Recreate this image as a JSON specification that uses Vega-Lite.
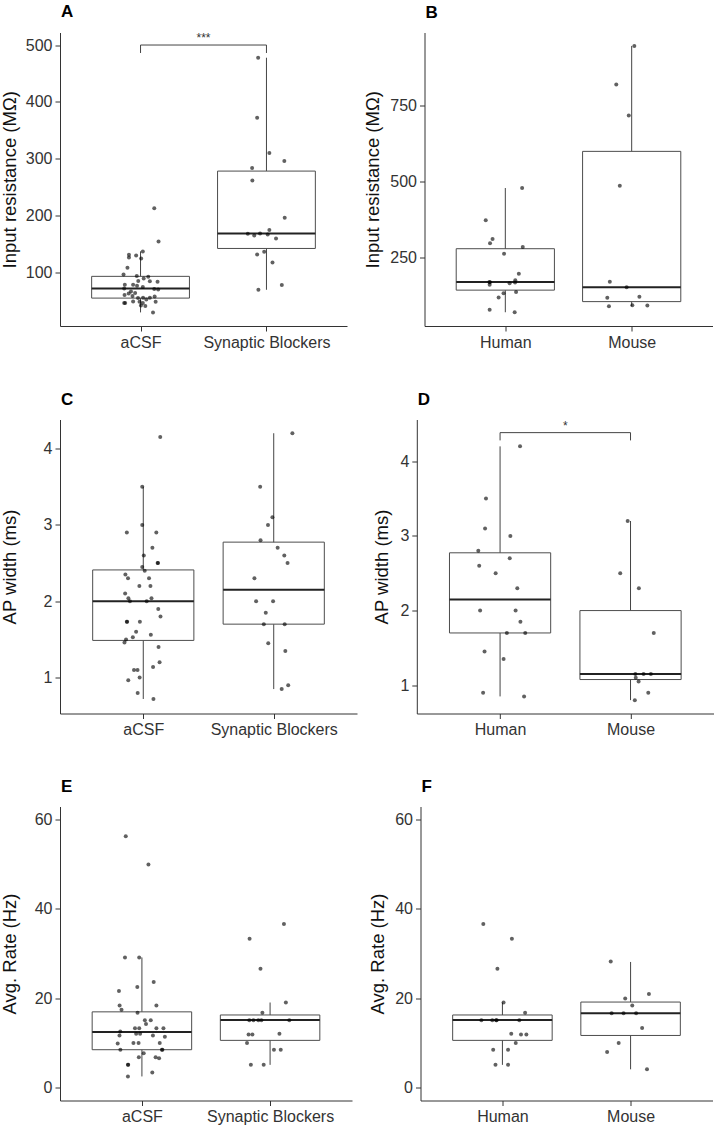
{
"$schema": "https://vega.github.io/schema/vega-lite/v6.json",
"autosize": {"type": "pad"},
"padding": {"left": 0, "top": 2.5, "right": 0, "bottom": 0},
"background": "white",
"config": {
 "font": "Liberation Sans",
 "view": {"stroke": null},
 "axis": {"grid": false, "domainColor": "#333", "tickColor": "#333", "labelColor": "#333", "titleColor": "#111", "labelFont": "Liberation Sans", "titleFont": "Liberation Sans", "labelFontSize": 16, "titleFontSize": 18.5, "titleFontWeight": "normal", "tickSize": 5, "domainWidth": 1, "tickWidth": 1, "labelFlush": false, "labelOverlap": false},
 "axisX": {"labelPadding": 3},
 "axisY": {"labelPadding": 3, "titlePadding": 2},
 "title": {"anchor": "start", "frame": "group", "fontSize": 17, "fontWeight": "bold", "font": "Liberation Sans", "color": "#000", "offset": 10.8, "baseline": "alphabetic", "dx": 1}
},
"datasets": {
 "pts": [
  {"p":"A","pos":1.109,"v":213.1},{"p":"A","pos":1.143,"v":155.1},{"p":"A","pos":1.018,"v":137.5},{"p":"A","pos":0.908,"v":131.6},{"p":"A","pos":0.908,"v":127.0},{"p":"A","pos":0.965,"v":130.5},{"p":"A","pos":1.005,"v":125.2},{"p":"A","pos":0.896,"v":108.8},{"p":"A","pos":0.865,"v":97.1},{"p":"A","pos":0.970,"v":94.2},{"p":"A","pos":1.025,"v":90.1},{"p":"A","pos":1.061,"v":92.9},{"p":"A","pos":0.982,"v":85.4},{"p":"A","pos":1.074,"v":84.9},{"p":"A","pos":0.875,"v":79.1},{"p":"A","pos":0.941,"v":79.1},{"p":"A","pos":0.972,"v":77.4},{"p":"A","pos":1.135,"v":84.2},{"p":"A","pos":1.018,"v":75.1},{"p":"A","pos":0.870,"v":72.2},{"p":"A","pos":1.109,"v":71.6},{"p":"A","pos":1.140,"v":70.5},{"p":"A","pos":0.924,"v":67.3},{"p":"A","pos":0.957,"v":64.4},{"p":"A","pos":0.906,"v":63.8},{"p":"A","pos":0.873,"v":60.9},{"p":"A","pos":0.936,"v":59.1},{"p":"A","pos":1.020,"v":56.2},{"p":"A","pos":1.074,"v":56.2},{"p":"A","pos":1.112,"v":58.5},{"p":"A","pos":0.980,"v":55.5},{"p":"A","pos":1.046,"v":53.2},{"p":"A","pos":1.120,"v":49.0},{"p":"A","pos":0.870,"v":46.7},{"p":"A","pos":0.878,"v":46.7},{"p":"A","pos":0.941,"v":49.7},{"p":"A","pos":0.992,"v":49.0},{"p":"A","pos":1.018,"v":46.7},{"p":"A","pos":1.003,"v":42.7},{"p":"A","pos":1.038,"v":41.5},{"p":"A","pos":1.099,"v":30.4},
  {"p":"A","pos":1.934,"v":477.7},{"p":"A","pos":1.926,"v":372.3},{"p":"A","pos":2.023,"v":310.2},{"p":"A","pos":2.142,"v":296.2},{"p":"A","pos":1.886,"v":283.9},{"p":"A","pos":1.888,"v":262.2},{"p":"A","pos":2.145,"v":196.6},{"p":"A","pos":1.852,"v":168.5},{"p":"A","pos":1.903,"v":165.6},{"p":"A","pos":1.949,"v":169.1},{"p":"A","pos":2.023,"v":175.0},{"p":"A","pos":2.010,"v":167.4},{"p":"A","pos":2.076,"v":160.3},{"p":"A","pos":1.982,"v":136.9},{"p":"A","pos":1.926,"v":132.2},{"p":"A","pos":2.048,"v":118.2},{"p":"A","pos":1.936,"v":70.1},{"p":"A","pos":2.122,"v":78.3},
  {"p":"B","pos":1.133,"v":477.7},{"p":"B","pos":0.845,"v":372.3},{"p":"B","pos":0.899,"v":310.2},{"p":"B","pos":0.879,"v":296.2},{"p":"B","pos":1.138,"v":283.9},{"p":"B","pos":0.990,"v":262.2},{"p":"B","pos":1.107,"v":196.6},{"p":"B","pos":0.874,"v":169.1},{"p":"B","pos":0.879,"v":168.5},{"p":"B","pos":1.034,"v":165.6},{"p":"B","pos":1.079,"v":175.0},{"p":"B","pos":1.077,"v":167.4},{"p":"B","pos":0.876,"v":160.3},{"p":"B","pos":1.085,"v":136.9},{"p":"B","pos":0.986,"v":132.2},{"p":"B","pos":0.947,"v":118.2},{"p":"B","pos":0.876,"v":78.3},{"p":"B","pos":1.074,"v":70.1},
  {"p":"B","pos":2.021,"v":943.8},{"p":"B","pos":1.878,"v":817},{"p":"B","pos":1.977,"v":716},{"p":"B","pos":1.906,"v":485},{"p":"B","pos":1.827,"v":170},{"p":"B","pos":1.960,"v":152},{"p":"B","pos":1.807,"v":118},{"p":"B","pos":2.061,"v":121},{"p":"B","pos":1.820,"v":90},{"p":"B","pos":2.005,"v":93},{"p":"B","pos":2.124,"v":92},
  {"p":"C","pos":0.992,"v":3.50},{"p":"C","pos":0.992,"v":3.00},{"p":"C","pos":0.874,"v":2.90},{"p":"C","pos":1.100,"v":2.90},{"p":"C","pos":1.070,"v":2.70},{"p":"C","pos":1.004,"v":2.60},{"p":"C","pos":1.110,"v":2.50},{"p":"C","pos":1.113,"v":2.50},{"p":"C","pos":0.992,"v":2.45},{"p":"C","pos":1.011,"v":2.40},{"p":"C","pos":0.863,"v":2.35},{"p":"C","pos":0.883,"v":2.30},{"p":"C","pos":1.044,"v":2.30},{"p":"C","pos":0.970,"v":2.20},{"p":"C","pos":1.055,"v":2.20},{"p":"C","pos":0.861,"v":2.10},{"p":"C","pos":0.886,"v":2.04},{"p":"C","pos":0.898,"v":2.00},{"p":"C","pos":1.063,"v":2.04},{"p":"C","pos":1.026,"v":2.00},{"p":"C","pos":1.115,"v":1.90},{"p":"C","pos":1.132,"v":1.80},{"p":"C","pos":0.874,"v":1.73},{"p":"C","pos":0.876,"v":1.73},{"p":"C","pos":0.974,"v":1.73},{"p":"C","pos":0.945,"v":1.60},{"p":"C","pos":0.920,"v":1.53},{"p":"C","pos":1.058,"v":1.56},{"p":"C","pos":0.868,"v":1.50},{"p":"C","pos":0.856,"v":1.46},{"p":"C","pos":1.117,"v":1.40},{"p":"C","pos":1.125,"v":1.20},{"p":"C","pos":1.075,"v":1.14},{"p":"C","pos":0.929,"v":1.10},{"p":"C","pos":0.956,"v":1.10},{"p":"C","pos":0.972,"v":1.00},{"p":"C","pos":0.885,"v":0.965},{"p":"C","pos":0.957,"v":0.80},{"p":"C","pos":1.078,"v":0.72},{"p":"C","pos":1.130,"v":4.15},
  {"p":"C","pos":2.143,"v":4.20},{"p":"C","pos":1.896,"v":3.50},{"p":"C","pos":1.990,"v":3.10},{"p":"C","pos":1.956,"v":3.00},{"p":"C","pos":1.899,"v":2.80},{"p":"C","pos":2.030,"v":2.70},{"p":"C","pos":2.081,"v":2.60},{"p":"C","pos":2.106,"v":2.50},{"p":"C","pos":1.852,"v":2.30},{"p":"C","pos":1.865,"v":2.00},{"p":"C","pos":1.995,"v":2.00},{"p":"C","pos":1.939,"v":1.85},{"p":"C","pos":1.924,"v":1.70},{"p":"C","pos":2.084,"v":1.70},{"p":"C","pos":1.958,"v":1.45},{"p":"C","pos":2.089,"v":1.35},{"p":"C","pos":2.111,"v":0.90},{"p":"C","pos":2.061,"v":0.85},
  {"p":"D","pos":1.153,"v":4.20},{"p":"D","pos":0.892,"v":3.50},{"p":"D","pos":0.885,"v":3.10},{"p":"D","pos":1.079,"v":3.00},{"p":"D","pos":0.833,"v":2.80},{"p":"D","pos":1.074,"v":2.70},{"p":"D","pos":0.840,"v":2.60},{"p":"D","pos":0.966,"v":2.50},{"p":"D","pos":1.132,"v":2.30},{"p":"D","pos":0.847,"v":2.00},{"p":"D","pos":1.119,"v":2.00},{"p":"D","pos":1.156,"v":1.85},{"p":"D","pos":1.052,"v":1.70},{"p":"D","pos":1.193,"v":1.70},{"p":"D","pos":0.881,"v":1.45},{"p":"D","pos":1.027,"v":1.35},{"p":"D","pos":0.870,"v":0.90},{"p":"D","pos":1.184,"v":0.85},
  {"p":"D","pos":1.978,"v":3.20},{"p":"D","pos":1.921,"v":2.50},{"p":"D","pos":2.064,"v":2.30},{"p":"D","pos":2.178,"v":1.70},{"p":"D","pos":2.037,"v":1.15},{"p":"D","pos":2.100,"v":1.15},{"p":"D","pos":2.156,"v":1.15},{"p":"D","pos":2.040,"v":1.10},{"p":"D","pos":2.062,"v":1.05},{"p":"D","pos":2.136,"v":0.90},{"p":"D","pos":2.033,"v":0.80},
  {"p":"E","pos":0.874,"v":56.3},{"p":"E","pos":1.051,"v":50.0},{"p":"E","pos":0.868,"v":29.1},{"p":"E","pos":0.979,"v":29.1},{"p":"E","pos":1.092,"v":23.6},{"p":"E","pos":0.821,"v":21.6},{"p":"E","pos":0.964,"v":22.5},{"p":"E","pos":0.826,"v":18.3},{"p":"E","pos":0.841,"v":17.4},{"p":"E","pos":1.113,"v":18.3},{"p":"E","pos":0.966,"v":16.7},{"p":"E","pos":1.023,"v":15.0},{"p":"E","pos":1.069,"v":15.0},{"p":"E","pos":1.032,"v":14.2},{"p":"E","pos":0.946,"v":13.2},{"p":"E","pos":0.979,"v":13.2},{"p":"E","pos":1.113,"v":13.2},{"p":"E","pos":1.168,"v":13.2},{"p":"E","pos":0.831,"v":12.5},{"p":"E","pos":0.955,"v":12.0},{"p":"E","pos":0.986,"v":12.0},{"p":"E","pos":1.086,"v":11.6},{"p":"E","pos":0.825,"v":11.6},{"p":"E","pos":1.179,"v":11.3},{"p":"E","pos":0.811,"v":9.8},{"p":"E","pos":0.934,"v":9.9},{"p":"E","pos":0.974,"v":9.9},{"p":"E","pos":1.139,"v":9.9},{"p":"E","pos":0.832,"v":8.4},{"p":"E","pos":1.156,"v":8.4},{"p":"E","pos":1.160,"v":8.4},{"p":"E","pos":1.014,"v":7.6},{"p":"E","pos":0.976,"v":6.7},{"p":"E","pos":1.107,"v":6.7},{"p":"E","pos":1.134,"v":6.5},{"p":"E","pos":0.891,"v":5.0},{"p":"E","pos":0.893,"v":5.0},{"p":"E","pos":1.081,"v":3.3},{"p":"E","pos":0.891,"v":2.4},
  {"p":"E","pos":2.108,"v":36.6},{"p":"E","pos":1.840,"v":33.3},{"p":"E","pos":1.925,"v":26.6},{"p":"E","pos":2.123,"v":19.0},{"p":"E","pos":1.940,"v":16.7},{"p":"E","pos":1.838,"v":15.0},{"p":"E","pos":1.870,"v":15.0},{"p":"E","pos":1.908,"v":15.0},{"p":"E","pos":1.932,"v":15.0},{"p":"E","pos":2.150,"v":15.0},{"p":"E","pos":1.832,"v":11.8},{"p":"E","pos":1.862,"v":11.8},{"p":"E","pos":2.073,"v":12.0},{"p":"E","pos":1.820,"v":9.9},{"p":"E","pos":2.030,"v":8.4},{"p":"E","pos":2.083,"v":8.4},{"p":"E","pos":1.850,"v":5.0},{"p":"E","pos":1.950,"v":5.0},
  {"p":"F","pos":0.851,"v":36.6},{"p":"F","pos":1.074,"v":33.3},{"p":"F","pos":0.961,"v":26.6},{"p":"F","pos":1.009,"v":19.0},{"p":"F","pos":1.177,"v":16.7},{"p":"F","pos":0.836,"v":15.0},{"p":"F","pos":0.921,"v":15.0},{"p":"F","pos":0.951,"v":15.0},{"p":"F","pos":0.955,"v":15.0},{"p":"F","pos":1.132,"v":15.0},{"p":"F","pos":1.145,"v":11.8},{"p":"F","pos":1.187,"v":11.8},{"p":"F","pos":1.069,"v":12.0},{"p":"F","pos":1.104,"v":9.9},{"p":"F","pos":0.928,"v":8.4},{"p":"F","pos":1.044,"v":8.4},{"p":"F","pos":0.946,"v":5.0},{"p":"F","pos":1.044,"v":5.0},
  {"p":"F","pos":1.845,"v":28.2},{"p":"F","pos":2.143,"v":20.9},{"p":"F","pos":1.958,"v":19.9},{"p":"F","pos":2.013,"v":18.3},{"p":"F","pos":1.852,"v":16.6},{"p":"F","pos":1.945,"v":16.6},{"p":"F","pos":2.043,"v":16.6},{"p":"F","pos":2.090,"v":13.3},{"p":"F","pos":1.907,"v":9.9},{"p":"F","pos":1.817,"v":7.9},{"p":"F","pos":2.128,"v":4.0}
 ],
 "box": [
  {"p":"A","pos":1,"lo":30.4,"q1":55.5,"med":72.2,"q3":93.7,"hi":137.5},
  {"p":"A","pos":2,"lo":70.1,"q1":142.7,"med":169.1,"q3":278.6,"hi":477.7},
  {"p":"B","pos":1,"lo":70.1,"q1":142.7,"med":169.1,"q3":278.6,"hi":477.7},
  {"p":"B","pos":2,"lo":90,"q1":105,"med":152,"q3":598,"hi":944},
  {"p":"C","pos":1,"lo":0.72,"q1":1.487,"med":2.0,"q3":2.41,"hi":3.5},
  {"p":"C","pos":2,"lo":0.85,"q1":1.70,"med":2.15,"q3":2.774,"hi":4.2},
  {"p":"D","pos":1,"lo":0.85,"q1":1.70,"med":2.15,"q3":2.774,"hi":4.2},
  {"p":"D","pos":2,"lo":0.8,"q1":1.076,"med":1.15,"q3":2.0,"hi":3.2},
  {"p":"E","pos":1,"lo":2.4,"q1":8.4,"med":12.35,"q3":16.9,"hi":29.1},
  {"p":"E","pos":2,"lo":5.0,"q1":10.5,"med":15.05,"q3":16.2,"hi":19.0},
  {"p":"F","pos":1,"lo":5.0,"q1":10.5,"med":15.05,"q3":16.2,"hi":19.0},
  {"p":"F","pos":2,"lo":4.0,"q1":11.6,"med":16.6,"q3":19.1,"hi":28.1}
 ],
 "sig": [
  {"p":"A","pos":1,"pos2":2,"mid":1.5,"y":500,"yt":486,"lab":"***"},
  {"p":"D","pos":1,"pos2":2,"mid":1.5,"y":4.384,"yt":4.28,"lab":"*"}
 ]
},
"vconcat": [
 {"hconcat": [
  {"width": 287, "height": 293.5, "title": "A",
   "layer": [
    {"data": {"name": "box"}, "transform": [{"filter": "datum.p == 'A'"}], "mark": {"type": "rule", "color": "#444", "strokeWidth": 1},
     "encoding": {"x": {"field": "pos", "type": "quantitative", "scale": {"domain": [0.4, 2.6], "nice": false, "zero": false}, "title": null, "axis": {"values": [1, 2], "labelExpr": "datum.value == 1 ? 'aCSF' : 'Synaptic Blockers'"}},
      "y": {"field": "lo", "type": "quantitative", "scale": {"domain": [6.5, 522], "nice": false, "zero": false}, "title": "Input resistance (MΩ)", "axis": {"values": [100, 200, 300, 400, 500], "minExtent": 39, "maxExtent": 39}}, "y2": {"field": "hi"}}},
    {"data": {"name": "box"}, "transform": [{"filter": "datum.p == 'A'"}], "mark": {"type": "bar", "size": 97.8, "fill": "white", "stroke": "#4d4d4d", "strokeWidth": 1},
     "encoding": {"x": {"field": "pos", "type": "quantitative", "scale": {"domain": [0.4, 2.6], "nice": false, "zero": false}, "title": null, "axis": {"values": [1, 2], "labelExpr": "datum.value == 1 ? 'aCSF' : 'Synaptic Blockers'"}},
      "y": {"field": "q1", "type": "quantitative", "scale": {"domain": [6.5, 522], "nice": false, "zero": false}, "title": "Input resistance (MΩ)", "axis": {"values": [100, 200, 300, 400, 500], "minExtent": 39, "maxExtent": 39}}, "y2": {"field": "q3"}}},
    {"data": {"name": "box"}, "transform": [{"filter": "datum.p == 'A'"}], "mark": {"type": "tick", "orient": "horizontal", "size": 97.8, "thickness": 2, "color": "#222", "opacity": 1},
     "encoding": {"x": {"field": "pos", "type": "quantitative", "scale": {"domain": [0.4, 2.6], "nice": false, "zero": false}, "title": null, "axis": {"values": [1, 2], "labelExpr": "datum.value == 1 ? 'aCSF' : 'Synaptic Blockers'"}},
      "y": {"field": "med", "type": "quantitative", "scale": {"domain": [6.5, 522], "nice": false, "zero": false}, "title": "Input resistance (MΩ)", "axis": {"values": [100, 200, 300, 400, 500], "minExtent": 39, "maxExtent": 39}}}},
    {"data": {"name": "pts"}, "transform": [{"filter": "datum.p == 'A'"}], "mark": {"type": "circle", "size": 16, "color": "#000", "opacity": 0.62},
     "encoding": {"x": {"field": "pos", "type": "quantitative", "scale": {"domain": [0.4, 2.6], "nice": false, "zero": false}, "title": null, "axis": {"values": [1, 2], "labelExpr": "datum.value == 1 ? 'aCSF' : 'Synaptic Blockers'"}},
      "y": {"field": "v", "type": "quantitative", "scale": {"domain": [6.5, 522], "nice": false, "zero": false}, "title": "Input resistance (MΩ)", "axis": {"values": [100, 200, 300, 400, 500], "minExtent": 39, "maxExtent": 39}}}},
    {"data": {"name": "sig"}, "transform": [{"filter": "datum.p == 'A'"}], "mark": {"type": "rule", "color": "#444", "strokeWidth": 1},
     "encoding": {"x": {"field": "pos", "type": "quantitative", "scale": {"domain": [0.4, 2.6], "nice": false, "zero": false}, "title": null, "axis": {"values": [1, 2], "labelExpr": "datum.value == 1 ? 'aCSF' : 'Synaptic Blockers'"}}, "x2": {"field": "pos2"},
      "y": {"field": "y", "type": "quantitative", "scale": {"domain": [6.5, 522], "nice": false, "zero": false}, "title": "Input resistance (MΩ)", "axis": {"values": [100, 200, 300, 400, 500], "minExtent": 39, "maxExtent": 39}}}},
    {"data": {"name": "sig"}, "transform": [{"filter": "datum.p == 'A'"}], "mark": {"type": "rule", "color": "#444", "strokeWidth": 1},
     "encoding": {"x": {"field": "pos", "type": "quantitative", "scale": {"domain": [0.4, 2.6], "nice": false, "zero": false}, "title": null, "axis": {"values": [1, 2], "labelExpr": "datum.value == 1 ? 'aCSF' : 'Synaptic Blockers'"}},
      "y": {"field": "yt", "type": "quantitative", "scale": {"domain": [6.5, 522], "nice": false, "zero": false}, "title": "Input resistance (MΩ)", "axis": {"values": [100, 200, 300, 400, 500], "minExtent": 39, "maxExtent": 39}}, "y2": {"field": "y"}}},
    {"data": {"name": "sig"}, "transform": [{"filter": "datum.p == 'A'"}], "mark": {"type": "rule", "color": "#444", "strokeWidth": 1},
     "encoding": {"x": {"field": "pos2", "type": "quantitative", "scale": {"domain": [0.4, 2.6], "nice": false, "zero": false}, "title": null, "axis": {"values": [1, 2], "labelExpr": "datum.value == 1 ? 'aCSF' : 'Synaptic Blockers'"}},
      "y": {"field": "yt", "type": "quantitative", "scale": {"domain": [6.5, 522], "nice": false, "zero": false}, "title": "Input resistance (MΩ)", "axis": {"values": [100, 200, 300, 400, 500], "minExtent": 39, "maxExtent": 39}}, "y2": {"field": "y"}}},
    {"data": {"name": "sig"}, "transform": [{"filter": "datum.p == 'A'"}], "mark": {"type": "text", "fontSize": 12, "color": "#333", "baseline": "alphabetic", "dy": -3},
     "encoding": {"x": {"field": "mid", "type": "quantitative", "scale": {"domain": [0.4, 2.6], "nice": false, "zero": false}, "title": null, "axis": {"values": [1, 2], "labelExpr": "datum.value == 1 ? 'aCSF' : 'Synaptic Blockers'"}},
      "y": {"field": "y", "type": "quantitative", "scale": {"domain": [6.5, 522], "nice": false, "zero": false}, "title": "Input resistance (MΩ)", "axis": {"values": [100, 200, 300, 400, 500], "minExtent": 39, "maxExtent": 39}}, "text": {"field": "lab"}}}
   ]},
  {"width": 288, "height": 293.5, "title": "B",
   "layer": [
    {"data": {"name": "box"}, "transform": [{"filter": "datum.p == 'B'"}], "mark": {"type": "rule", "color": "#444", "strokeWidth": 1},
     "encoding": {"x": {"field": "pos", "type": "quantitative", "scale": {"domain": [0.4, 2.6], "nice": false, "zero": false}, "title": null, "axis": {"values": [1, 2], "labelExpr": "datum.value == 1 ? 'Human' : 'Mouse'"}},
      "y": {"field": "lo", "type": "quantitative", "scale": {"domain": [25, 988], "nice": false, "zero": false}, "title": "Input resistance (MΩ)", "axis": {"values": [250, 500, 750], "minExtent": 40, "maxExtent": 40}}, "y2": {"field": "hi"}}},
    {"data": {"name": "box"}, "transform": [{"filter": "datum.p == 'B'"}], "mark": {"type": "bar", "size": 98.2, "fill": "white", "stroke": "#4d4d4d", "strokeWidth": 1},
     "encoding": {"x": {"field": "pos", "type": "quantitative", "scale": {"domain": [0.4, 2.6], "nice": false, "zero": false}, "title": null, "axis": {"values": [1, 2], "labelExpr": "datum.value == 1 ? 'Human' : 'Mouse'"}},
      "y": {"field": "q1", "type": "quantitative", "scale": {"domain": [25, 988], "nice": false, "zero": false}, "title": "Input resistance (MΩ)", "axis": {"values": [250, 500, 750], "minExtent": 40, "maxExtent": 40}}, "y2": {"field": "q3"}}},
    {"data": {"name": "box"}, "transform": [{"filter": "datum.p == 'B'"}], "mark": {"type": "tick", "orient": "horizontal", "size": 98.2, "thickness": 2, "color": "#222", "opacity": 1},
     "encoding": {"x": {"field": "pos", "type": "quantitative", "scale": {"domain": [0.4, 2.6], "nice": false, "zero": false}, "title": null, "axis": {"values": [1, 2], "labelExpr": "datum.value == 1 ? 'Human' : 'Mouse'"}},
      "y": {"field": "med", "type": "quantitative", "scale": {"domain": [25, 988], "nice": false, "zero": false}, "title": "Input resistance (MΩ)", "axis": {"values": [250, 500, 750], "minExtent": 40, "maxExtent": 40}}}},
    {"data": {"name": "pts"}, "transform": [{"filter": "datum.p == 'B'"}], "mark": {"type": "circle", "size": 16, "color": "#000", "opacity": 0.62},
     "encoding": {"x": {"field": "pos", "type": "quantitative", "scale": {"domain": [0.4, 2.6], "nice": false, "zero": false}, "title": null, "axis": {"values": [1, 2], "labelExpr": "datum.value == 1 ? 'Human' : 'Mouse'"}},
      "y": {"field": "v", "type": "quantitative", "scale": {"domain": [25, 988], "nice": false, "zero": false}, "title": "Input resistance (MΩ)", "axis": {"values": [250, 500, 750], "minExtent": 40, "maxExtent": 40}}}}
   ]}
 ], "spacing": 16.5},
 {"hconcat": [
  {"width": 297, "height": 294, "title": "C",
   "layer": [
    {"data": {"name": "box"}, "transform": [{"filter": "datum.p == 'C'"}], "mark": {"type": "rule", "color": "#444", "strokeWidth": 1},
     "encoding": {"x": {"field": "pos", "type": "quantitative", "scale": {"domain": [0.4, 2.6], "nice": false, "zero": false}, "title": null, "axis": {"values": [1, 2], "labelExpr": "datum.value == 1 ? 'aCSF' : 'Synaptic Blockers'"}},
      "y": {"field": "lo", "type": "quantitative", "scale": {"domain": [0.53, 4.38], "nice": false, "zero": false}, "title": "AP width (ms)", "axis": {"values": [1, 2, 3, 4], "minExtent": 39, "maxExtent": 39}}, "y2": {"field": "hi"}}},
    {"data": {"name": "box"}, "transform": [{"filter": "datum.p == 'C'"}], "mark": {"type": "bar", "size": 101.2, "fill": "white", "stroke": "#4d4d4d", "strokeWidth": 1},
     "encoding": {"x": {"field": "pos", "type": "quantitative", "scale": {"domain": [0.4, 2.6], "nice": false, "zero": false}, "title": null, "axis": {"values": [1, 2], "labelExpr": "datum.value == 1 ? 'aCSF' : 'Synaptic Blockers'"}},
      "y": {"field": "q1", "type": "quantitative", "scale": {"domain": [0.53, 4.38], "nice": false, "zero": false}, "title": "AP width (ms)", "axis": {"values": [1, 2, 3, 4], "minExtent": 39, "maxExtent": 39}}, "y2": {"field": "q3"}}},
    {"data": {"name": "box"}, "transform": [{"filter": "datum.p == 'C'"}], "mark": {"type": "tick", "orient": "horizontal", "size": 101.2, "thickness": 2, "color": "#222", "opacity": 1},
     "encoding": {"x": {"field": "pos", "type": "quantitative", "scale": {"domain": [0.4, 2.6], "nice": false, "zero": false}, "title": null, "axis": {"values": [1, 2], "labelExpr": "datum.value == 1 ? 'aCSF' : 'Synaptic Blockers'"}},
      "y": {"field": "med", "type": "quantitative", "scale": {"domain": [0.53, 4.38], "nice": false, "zero": false}, "title": "AP width (ms)", "axis": {"values": [1, 2, 3, 4], "minExtent": 39, "maxExtent": 39}}}},
    {"data": {"name": "pts"}, "transform": [{"filter": "datum.p == 'C'"}], "mark": {"type": "circle", "size": 16, "color": "#000", "opacity": 0.62},
     "encoding": {"x": {"field": "pos", "type": "quantitative", "scale": {"domain": [0.4, 2.6], "nice": false, "zero": false}, "title": null, "axis": {"values": [1, 2], "labelExpr": "datum.value == 1 ? 'aCSF' : 'Synaptic Blockers'"}},
      "y": {"field": "v", "type": "quantitative", "scale": {"domain": [0.53, 4.38], "nice": false, "zero": false}, "title": "AP width (ms)", "axis": {"values": [1, 2, 3, 4], "minExtent": 39, "maxExtent": 39}}}}
   ]},
  {"width": 297, "height": 294, "title": "D",
   "layer": [
    {"data": {"name": "box"}, "transform": [{"filter": "datum.p == 'D'"}], "mark": {"type": "rule", "color": "#444", "strokeWidth": 1},
     "encoding": {"x": {"field": "pos", "type": "quantitative", "scale": {"domain": [0.4, 2.6], "nice": false, "zero": false}, "title": null, "axis": {"values": [1, 2], "labelExpr": "datum.value == 1 ? 'Human' : 'Mouse'"}},
      "y": {"field": "lo", "type": "quantitative", "scale": {"domain": [0.621, 4.56], "nice": false, "zero": false}, "title": "AP width (ms)", "axis": {"values": [1, 2, 3, 4], "minExtent": 23.4, "maxExtent": 23.4}}, "y2": {"field": "hi"}}},
    {"data": {"name": "box"}, "transform": [{"filter": "datum.p == 'D'"}], "mark": {"type": "bar", "size": 101.2, "fill": "white", "stroke": "#4d4d4d", "strokeWidth": 1},
     "encoding": {"x": {"field": "pos", "type": "quantitative", "scale": {"domain": [0.4, 2.6], "nice": false, "zero": false}, "title": null, "axis": {"values": [1, 2], "labelExpr": "datum.value == 1 ? 'Human' : 'Mouse'"}},
      "y": {"field": "q1", "type": "quantitative", "scale": {"domain": [0.621, 4.56], "nice": false, "zero": false}, "title": "AP width (ms)", "axis": {"values": [1, 2, 3, 4], "minExtent": 23.4, "maxExtent": 23.4}}, "y2": {"field": "q3"}}},
    {"data": {"name": "box"}, "transform": [{"filter": "datum.p == 'D'"}], "mark": {"type": "tick", "orient": "horizontal", "size": 101.2, "thickness": 2, "color": "#222", "opacity": 1},
     "encoding": {"x": {"field": "pos", "type": "quantitative", "scale": {"domain": [0.4, 2.6], "nice": false, "zero": false}, "title": null, "axis": {"values": [1, 2], "labelExpr": "datum.value == 1 ? 'Human' : 'Mouse'"}},
      "y": {"field": "med", "type": "quantitative", "scale": {"domain": [0.621, 4.56], "nice": false, "zero": false}, "title": "AP width (ms)", "axis": {"values": [1, 2, 3, 4], "minExtent": 23.4, "maxExtent": 23.4}}}},
    {"data": {"name": "pts"}, "transform": [{"filter": "datum.p == 'D'"}], "mark": {"type": "circle", "size": 16, "color": "#000", "opacity": 0.62},
     "encoding": {"x": {"field": "pos", "type": "quantitative", "scale": {"domain": [0.4, 2.6], "nice": false, "zero": false}, "title": null, "axis": {"values": [1, 2], "labelExpr": "datum.value == 1 ? 'Human' : 'Mouse'"}},
      "y": {"field": "v", "type": "quantitative", "scale": {"domain": [0.621, 4.56], "nice": false, "zero": false}, "title": "AP width (ms)", "axis": {"values": [1, 2, 3, 4], "minExtent": 23.4, "maxExtent": 23.4}}}},
    {"data": {"name": "sig"}, "transform": [{"filter": "datum.p == 'D'"}], "mark": {"type": "rule", "color": "#444", "strokeWidth": 1},
     "encoding": {"x": {"field": "pos", "type": "quantitative", "scale": {"domain": [0.4, 2.6], "nice": false, "zero": false}, "title": null, "axis": {"values": [1, 2], "labelExpr": "datum.value == 1 ? 'Human' : 'Mouse'"}}, "x2": {"field": "pos2"},
      "y": {"field": "y", "type": "quantitative", "scale": {"domain": [0.621, 4.56], "nice": false, "zero": false}, "title": "AP width (ms)", "axis": {"values": [1, 2, 3, 4], "minExtent": 23.4, "maxExtent": 23.4}}}},
    {"data": {"name": "sig"}, "transform": [{"filter": "datum.p == 'D'"}], "mark": {"type": "rule", "color": "#444", "strokeWidth": 1},
     "encoding": {"x": {"field": "pos", "type": "quantitative", "scale": {"domain": [0.4, 2.6], "nice": false, "zero": false}, "title": null, "axis": {"values": [1, 2], "labelExpr": "datum.value == 1 ? 'Human' : 'Mouse'"}},
      "y": {"field": "yt", "type": "quantitative", "scale": {"domain": [0.621, 4.56], "nice": false, "zero": false}, "title": "AP width (ms)", "axis": {"values": [1, 2, 3, 4], "minExtent": 23.4, "maxExtent": 23.4}}, "y2": {"field": "y"}}},
    {"data": {"name": "sig"}, "transform": [{"filter": "datum.p == 'D'"}], "mark": {"type": "rule", "color": "#444", "strokeWidth": 1},
     "encoding": {"x": {"field": "pos2", "type": "quantitative", "scale": {"domain": [0.4, 2.6], "nice": false, "zero": false}, "title": null, "axis": {"values": [1, 2], "labelExpr": "datum.value == 1 ? 'Human' : 'Mouse'"}},
      "y": {"field": "yt", "type": "quantitative", "scale": {"domain": [0.621, 4.56], "nice": false, "zero": false}, "title": "AP width (ms)", "axis": {"values": [1, 2, 3, 4], "minExtent": 23.4, "maxExtent": 23.4}}, "y2": {"field": "y"}}},
    {"data": {"name": "sig"}, "transform": [{"filter": "datum.p == 'D'"}], "mark": {"type": "text", "fontSize": 12, "color": "#333", "baseline": "alphabetic", "dy": -3},
     "encoding": {"x": {"field": "mid", "type": "quantitative", "scale": {"domain": [0.4, 2.6], "nice": false, "zero": false}, "title": null, "axis": {"values": [1, 2], "labelExpr": "datum.value == 1 ? 'Human' : 'Mouse'"}},
      "y": {"field": "y", "type": "quantitative", "scale": {"domain": [0.621, 4.56], "nice": false, "zero": false}, "title": "AP width (ms)", "axis": {"values": [1, 2, 3, 4], "minExtent": 23.4, "maxExtent": 23.4}}, "text": {"field": "lab"}}}
   ]}
 ], "spacing": 14.8},
 {"hconcat": [
  {"width": 292, "height": 294, "title": "E",
   "layer": [
    {"data": {"name": "box"}, "transform": [{"filter": "datum.p == 'E'"}], "mark": {"type": "rule", "color": "#444", "strokeWidth": 1},
     "encoding": {"x": {"field": "pos", "type": "quantitative", "scale": {"domain": [0.4, 2.6], "nice": false, "zero": false}, "title": null, "axis": {"values": [1, 2], "labelExpr": "datum.value == 1 ? 'aCSF' : 'Synaptic Blockers'"}},
      "y": {"field": "lo", "type": "quantitative", "scale": {"domain": [-3, 63], "nice": false, "zero": false}, "title": "Avg. Rate (Hz)", "axis": {"values": [0, 20, 40, 60], "minExtent": 39, "maxExtent": 39}}, "y2": {"field": "hi"}}},
    {"data": {"name": "box"}, "transform": [{"filter": "datum.p == 'E'"}], "mark": {"type": "bar", "size": 99.5, "fill": "white", "stroke": "#4d4d4d", "strokeWidth": 1},
     "encoding": {"x": {"field": "pos", "type": "quantitative", "scale": {"domain": [0.4, 2.6], "nice": false, "zero": false}, "title": null, "axis": {"values": [1, 2], "labelExpr": "datum.value == 1 ? 'aCSF' : 'Synaptic Blockers'"}},
      "y": {"field": "q1", "type": "quantitative", "scale": {"domain": [-3, 63], "nice": false, "zero": false}, "title": "Avg. Rate (Hz)", "axis": {"values": [0, 20, 40, 60], "minExtent": 39, "maxExtent": 39}}, "y2": {"field": "q3"}}},
    {"data": {"name": "box"}, "transform": [{"filter": "datum.p == 'E'"}], "mark": {"type": "tick", "orient": "horizontal", "size": 99.5, "thickness": 2, "color": "#222", "opacity": 1},
     "encoding": {"x": {"field": "pos", "type": "quantitative", "scale": {"domain": [0.4, 2.6], "nice": false, "zero": false}, "title": null, "axis": {"values": [1, 2], "labelExpr": "datum.value == 1 ? 'aCSF' : 'Synaptic Blockers'"}},
      "y": {"field": "med", "type": "quantitative", "scale": {"domain": [-3, 63], "nice": false, "zero": false}, "title": "Avg. Rate (Hz)", "axis": {"values": [0, 20, 40, 60], "minExtent": 39, "maxExtent": 39}}}},
    {"data": {"name": "pts"}, "transform": [{"filter": "datum.p == 'E'"}], "mark": {"type": "circle", "size": 16, "color": "#000", "opacity": 0.62},
     "encoding": {"x": {"field": "pos", "type": "quantitative", "scale": {"domain": [0.4, 2.6], "nice": false, "zero": false}, "title": null, "axis": {"values": [1, 2], "labelExpr": "datum.value == 1 ? 'aCSF' : 'Synaptic Blockers'"}},
      "y": {"field": "v", "type": "quantitative", "scale": {"domain": [-3, 63], "nice": false, "zero": false}, "title": "Avg. Rate (Hz)", "axis": {"values": [0, 20, 40, 60], "minExtent": 39, "maxExtent": 39}}}}
   ]},
  {"width": 292, "height": 294, "title": "F",
   "layer": [
    {"data": {"name": "box"}, "transform": [{"filter": "datum.p == 'F'"}], "mark": {"type": "rule", "color": "#444", "strokeWidth": 1},
     "encoding": {"x": {"field": "pos", "type": "quantitative", "scale": {"domain": [0.4, 2.6], "nice": false, "zero": false}, "title": null, "axis": {"values": [1, 2], "labelExpr": "datum.value == 1 ? 'Human' : 'Mouse'"}},
      "y": {"field": "lo", "type": "quantitative", "scale": {"domain": [-3, 63], "nice": false, "zero": false}, "title": "Avg. Rate (Hz)", "axis": {"values": [0, 20, 40, 60], "minExtent": 30.7, "maxExtent": 30.7}}, "y2": {"field": "hi"}}},
    {"data": {"name": "box"}, "transform": [{"filter": "datum.p == 'F'"}], "mark": {"type": "bar", "size": 99.5, "fill": "white", "stroke": "#4d4d4d", "strokeWidth": 1},
     "encoding": {"x": {"field": "pos", "type": "quantitative", "scale": {"domain": [0.4, 2.6], "nice": false, "zero": false}, "title": null, "axis": {"values": [1, 2], "labelExpr": "datum.value == 1 ? 'Human' : 'Mouse'"}},
      "y": {"field": "q1", "type": "quantitative", "scale": {"domain": [-3, 63], "nice": false, "zero": false}, "title": "Avg. Rate (Hz)", "axis": {"values": [0, 20, 40, 60], "minExtent": 30.7, "maxExtent": 30.7}}, "y2": {"field": "q3"}}},
    {"data": {"name": "box"}, "transform": [{"filter": "datum.p == 'F'"}], "mark": {"type": "tick", "orient": "horizontal", "size": 99.5, "thickness": 2, "color": "#222", "opacity": 1},
     "encoding": {"x": {"field": "pos", "type": "quantitative", "scale": {"domain": [0.4, 2.6], "nice": false, "zero": false}, "title": null, "axis": {"values": [1, 2], "labelExpr": "datum.value == 1 ? 'Human' : 'Mouse'"}},
      "y": {"field": "med", "type": "quantitative", "scale": {"domain": [-3, 63], "nice": false, "zero": false}, "title": "Avg. Rate (Hz)", "axis": {"values": [0, 20, 40, 60], "minExtent": 30.7, "maxExtent": 30.7}}}},
    {"data": {"name": "pts"}, "transform": [{"filter": "datum.p == 'F'"}], "mark": {"type": "circle", "size": 16, "color": "#000", "opacity": 0.62},
     "encoding": {"x": {"field": "pos", "type": "quantitative", "scale": {"domain": [0.4, 2.6], "nice": false, "zero": false}, "title": null, "axis": {"values": [1, 2], "labelExpr": "datum.value == 1 ? 'Human' : 'Mouse'"}},
      "y": {"field": "v", "type": "quantitative", "scale": {"domain": [-3, 63], "nice": false, "zero": false}, "title": "Avg. Rate (Hz)", "axis": {"values": [0, 20, 40, 60], "minExtent": 30.7, "maxExtent": 30.7}}}}
   ]}
 ], "spacing": 16.5}
],
"spacing": 40
}
